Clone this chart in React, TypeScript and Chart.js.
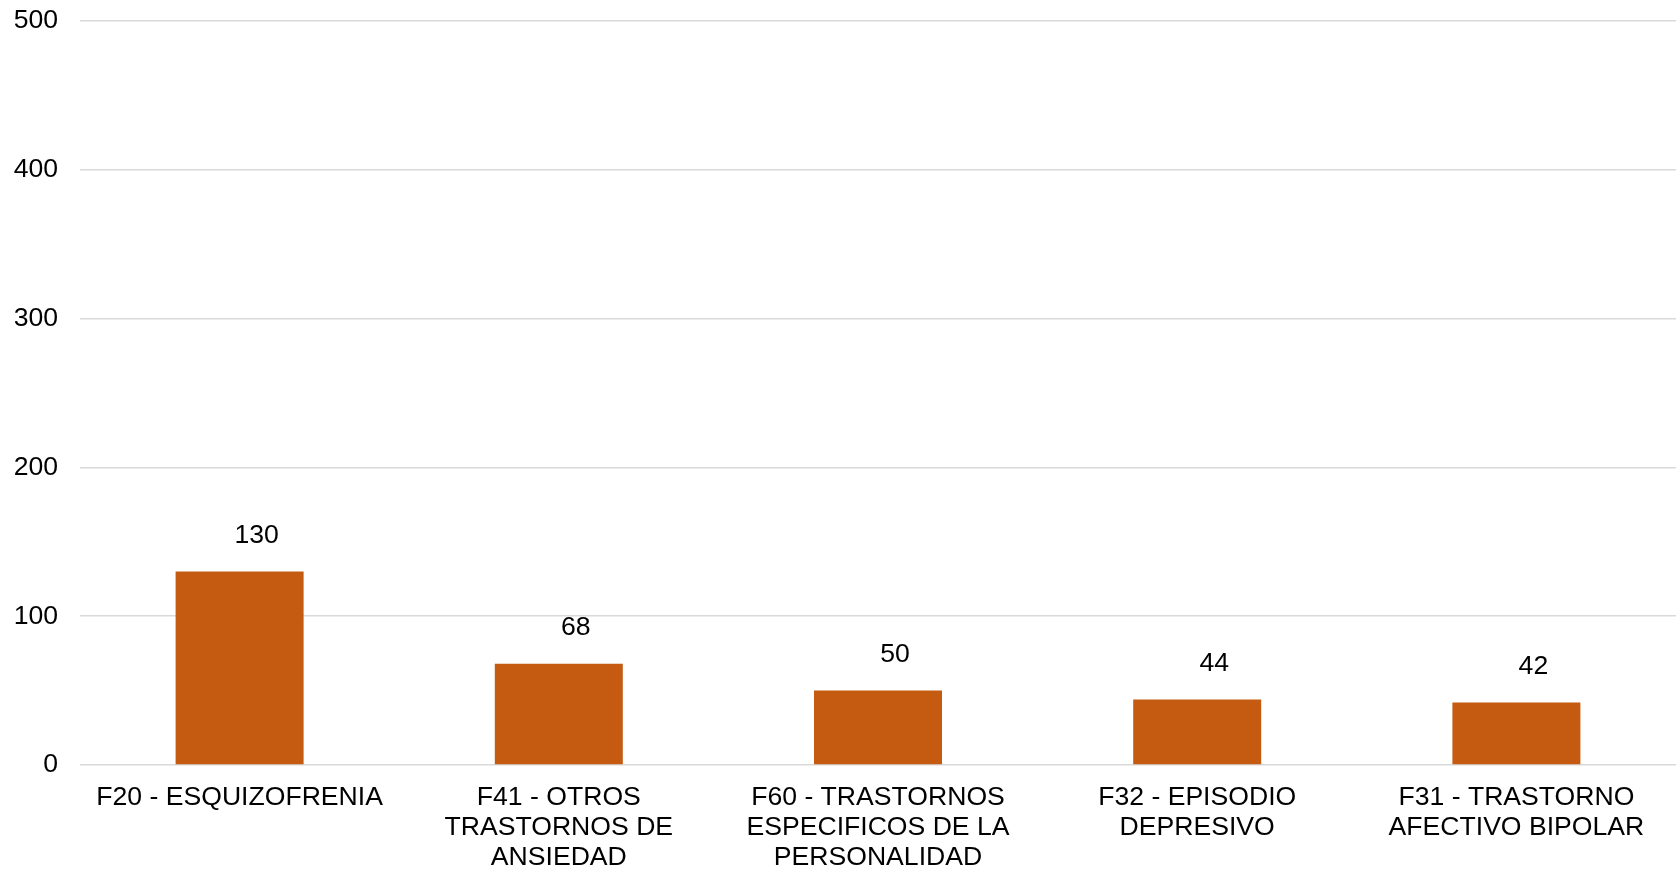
import React, { useEffect, useRef } from "react";
import { Chart, registerables } from "chart.js";

Chart.register(...registerables);

const categories: (string | string[])[] = [
  "F20 - ESQUIZOFRENIA",
  ["F41 - OTROS", "TRASTORNOS DE", "ANSIEDAD"],
  ["F60 - TRASTORNOS", "ESPECIFICOS DE LA", "PERSONALIDAD"],
  ["F32 - EPISODIO", "DEPRESIVO"],
  ["F31 - TRASTORNO", "AFECTIVO BIPOLAR"],
];
const values: number[] = [130, 68, 50, 44, 42];
const yMin = 0;
const yMax = 500;
const yStep = 100;

const FONT = "'Liberation Sans', Arial, sans-serif";
const FONT_SIZE = 26.6;

const valueLabelPlugin = {
  id: "valueLabels",
  afterDatasetsDraw(chart: any) {
    const ctx = chart.ctx;
    const meta = chart.getDatasetMeta(0);
    ctx.save();
    ctx.font = `${FONT_SIZE}px ${FONT}`;
    ctx.fillStyle = "#000000";
    ctx.textAlign = "center";
    ctx.textBaseline = "middle";
    meta.data.forEach((bar: any, i: number) => {
      ctx.fillText(String(values[i]), bar.x + 17, bar.y - 36);
    });
    ctx.restore();
  },
};

export default function App() {
  const ref = useRef<HTMLCanvasElement | null>(null);
  useEffect(() => {
    if (!ref.current) return;
    const chart = new Chart(ref.current, {
      type: "bar",
      data: {
        labels: categories,
        datasets: [
          {
            data: values,
            backgroundColor: "#c55a11",
            borderWidth: 0,
            barPercentage: 1,
            categoryPercentage: 0.401,
          },
        ],
      },
      options: {
        animation: false,
        responsive: false,
        maintainAspectRatio: false,
        layout: { padding: { top: 21, right: -3, bottom: 0, left: 0 }, autoPadding: false },
        plugins: {
          legend: { display: false },
          tooltip: { enabled: false },
          title: { display: false },
        },
        scales: {
          x: {
            afterFit: (scale: any) => {
              scale.height = 104;
              scale.paddingLeft = 0;
              scale.paddingRight = 0;
            },
            grid: { display: false, drawTicks: false },
            border: { display: false },
            ticks: {
              color: "#000000",
              font: { family: FONT, size: FONT_SIZE, lineHeight: 1.13 },
              padding: 18,
              maxRotation: 0,
              autoSkip: false,
            },
          },
          y: {
            min: yMin,
            max: yMax,
            afterFit: (scale: any) => {
              scale.width = 80;
              scale.paddingTop = 0;
              scale.paddingBottom = 0;
            },
            grid: { color: "#d9d9d9", lineWidth: 1.5, drawTicks: false },
            border: { display: false },
            ticks: {
              stepSize: yStep,
              color: "#000000",
              font: { family: FONT, size: FONT_SIZE },
              padding: 22,
            },
          },
        },
      },
      plugins: [valueLabelPlugin],
    });
    return () => chart.destroy();
  }, []);
  return (
    <div style={{ position: "fixed", left: 0, top: 0, width: 1676, height: 869, background: "#ffffff" }}>
      <canvas ref={ref} width={1676} height={869} style={{ width: 1676, height: 869, display: "block" }} />
    </div>
  );
}
